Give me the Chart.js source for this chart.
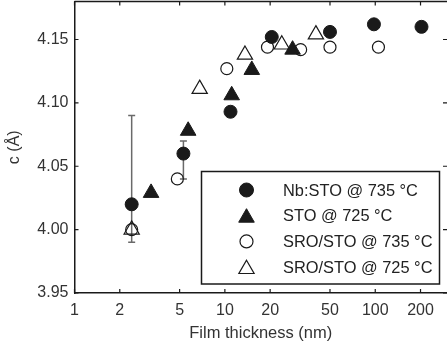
<!DOCTYPE html>
<html>
<head>
<meta charset="utf-8">
<script src="https://cdn.jsdelivr.net/npm/chart.js@4.4.0/dist/chart.umd.min.js"></script>
<style>
  html, body { margin: 0; padding: 0; background: #fff; overflow: hidden; }
</style>
</head>
<body>
<canvas id="chart" width="447" height="347"></canvas>
<script>
// film thickness (nm) vs out-of-plane lattice parameter c (Å)
const nbStoX = [2.4, 5.3, 10.9, 20.5, 50, 98, 203];
const nbStoY = [4.020, 4.060, 4.093, 4.152, 4.156, 4.162, 4.160];
const nbStoErrLow = [3.990, 4.040, null, null, null, null, null];
const nbStoErrHigh = [4.090, 4.070, null, null, null, null, null];

const stoX = [3.23, 5.7, 11.1, 15.1, 28.2];
const stoY = [4.029, 4.078, 4.106, 4.126, 4.142];

const sro735X = [2.4, 4.83, 10.3, 19.2, 31.9, 50, 105];
const sro735Y = [4.000, 4.040, 4.127, 4.144, 4.142, 4.144, 4.144];

const sro725X = [2.4, 6.8, 13.6, 23.9, 40.3];
const sro725Y = [4.000, 4.111, 4.138, 4.146, 4.154];

const seriesLabels = ['Nb:STO @ 735 °C', 'STO @ 725 °C', 'SRO/STO @ 735 °C', 'SRO/STO @ 725 °C'];
const xTicks = [1, 2, 5, 10, 20, 50, 100, 200];
const yTicks = [3.95, 4.00, 4.05, 4.10, 4.15];

const FONT = "'Liberation Sans', Arial, sans-serif";
const INK = '#1a1a1a';

function toPoints(xs, ys) {
  return xs.map((x, i) => ({ x: x, y: ys[i] }));
}

// error bars for the Nb:STO series
const errorBars = {
  id: 'errorBars',
  beforeDatasetsDraw(chart) {
    const { ctx, scales: { x, y } } = chart;
    ctx.save();
    ctx.strokeStyle = '#6a6a6a';
    ctx.lineWidth = 1.5;
    ctx.beginPath();
    nbStoX.forEach((xv, i) => {
      if (nbStoErrLow[i] == null) return;
      const px = x.getPixelForValue(xv);
      const lo = y.getPixelForValue(nbStoErrLow[i]);
      const hi = y.getPixelForValue(nbStoErrHigh[i]);
      ctx.moveTo(px, lo); ctx.lineTo(px, hi);
      ctx.moveTo(px - 3.5, lo); ctx.lineTo(px + 3.5, lo);
      ctx.moveTo(px - 3.5, hi); ctx.lineTo(px + 3.5, hi);
    });
    ctx.stroke();
    ctx.restore();
  }
};

// top edge plus inward tick marks on all four sides
const frameTicks = {
  id: 'frameTicks',
  afterDraw(chart) {
    const { ctx, chartArea: a, scales: { x, y } } = chart;
    ctx.save();
    ctx.strokeStyle = INK;
    ctx.lineWidth = 1.5;
    ctx.beginPath();
    ctx.moveTo(a.left, a.top); ctx.lineTo(a.right, a.top);
    ctx.stroke();
    ctx.lineWidth = 1.2;
    ctx.beginPath();
    xTicks.forEach(v => {
      const px = x.getPixelForValue(v);
      ctx.moveTo(px, a.bottom); ctx.lineTo(px, a.bottom - 4);
      ctx.moveTo(px, a.top); ctx.lineTo(px, a.top + 4);
    });
    yTicks.forEach(v => {
      const py = y.getPixelForValue(v);
      ctx.moveTo(a.left, py); ctx.lineTo(a.left + 4, py);
      ctx.moveTo(a.right, py); ctx.lineTo(a.right - 4, py);
    });
    ctx.stroke();
    ctx.restore();
  }
};

// boxed legend in the lower right of the plot
const boxLegend = {
  id: 'boxLegend',
  afterDraw(chart) {
    const { ctx } = chart;
    const box = { left: 201.5, top: 171.5, right: 439.5, bottom: 284 };
    ctx.save();
    ctx.fillStyle = '#fff';
    ctx.fillRect(box.left, box.top, box.right - box.left, box.bottom - box.top);
    ctx.strokeStyle = INK;
    ctx.lineWidth = 1.5;
    ctx.strokeRect(box.left, box.top, box.right - box.left, box.bottom - box.top);
    ctx.font = '16.4px ' + FONT;
    ctx.textBaseline = 'middle';
    chart.data.datasets.forEach((ds, i) => {
      const rowY = 190 + i * 25.7;
      ctx.fillStyle = ds.backgroundColor;
      ctx.strokeStyle = ds.borderColor;
      ctx.lineWidth = ds.borderWidth;
      const r = ds.pointStyle === 'triangle' ? ds.pointRadius : ds.pointRadius + 0.5;
      Chart.helpers.drawPoint(ctx, { pointStyle: ds.pointStyle, rotation: 0, radius: r, borderWidth: ds.borderWidth },
        246.5, ds.pointStyle === 'triangle' ? rowY + 2 : rowY);
      ctx.fillStyle = '#222';
      ctx.fillText(ds.label, 283, rowY + 1);
    });
    ctx.restore();
  }
};

new Chart(document.getElementById('chart'), {
  type: 'scatter',
  data: {
    datasets: [
      {
        label: seriesLabels[0],
        data: toPoints(nbStoX, nbStoY),
        pointStyle: 'circle', pointRadius: 6.5, borderWidth: 1,
        backgroundColor: INK, borderColor: INK
      },
      {
        label: seriesLabels[1],
        data: toPoints(stoX, stoY),
        pointStyle: 'triangle', pointRadius: 9, borderWidth: 1,
        backgroundColor: INK, borderColor: INK
      },
      {
        label: seriesLabels[2],
        data: toPoints(sro735X, sro735Y),
        pointStyle: 'circle', pointRadius: 6, borderWidth: 1.2,
        backgroundColor: 'rgba(255,255,255,0)', borderColor: INK
      },
      {
        label: seriesLabels[3],
        data: toPoints(sro725X, sro725Y),
        pointStyle: 'triangle', pointRadius: 8.8, borderWidth: 1.2,
        backgroundColor: 'rgba(255,255,255,0)', borderColor: INK
      }
    ]
  },
  options: {
    responsive: false,
    animation: false,
    devicePixelRatio: 1,
    layout: { autoPadding: false, padding: { top: 1.5, left: 0, right: 0, bottom: 0 } },
    plugins: { legend: { display: false }, tooltip: { enabled: false } },
    scales: {
      x: {
        type: 'logarithmic',
        min: 1,
        max: 300,
        afterBuildTicks: s => { s.ticks = xTicks.map(v => ({ value: v })); },
        afterFit: s => { s.height = 54; s.paddingLeft = 0; s.paddingRight = 0; },
        grid: { display: false, drawTicks: false },
        border: { display: true, color: INK, width: 1.5 },
        ticks: {
          autoSkip: false, maxRotation: 0, padding: 8,
          color: '#333', font: { family: FONT, size: 16 },
          callback: v => String(v)
        },
        title: {
          display: true, text: 'Film thickness (nm)',
          color: '#333', font: { family: FONT, size: 16.5 },
          padding: { top: 0, bottom: 4 }
        }
      },
      y: {
        min: 3.95,
        max: 4.18,
        afterBuildTicks: s => { s.ticks = yTicks.map(v => ({ value: v })); },
        afterFit: s => { s.width = 74.5; s.paddingTop = 0; s.paddingBottom = 0; },
        grid: { display: false, drawTicks: false },
        border: { display: true, color: INK, width: 1.5 },
        ticks: {
          padding: 6,
          color: '#333', font: { family: FONT, size: 16 },
          callback: v => v.toFixed(2)
        },
        title: {
          display: true, text: 'c (Å)',
          color: '#333', font: { family: FONT, size: 16 },
          padding: { top: 5, bottom: 0 }
        }
      }
    }
  },
  plugins: [errorBars, frameTicks, boxLegend]
});
</script>
</body>
</html>
